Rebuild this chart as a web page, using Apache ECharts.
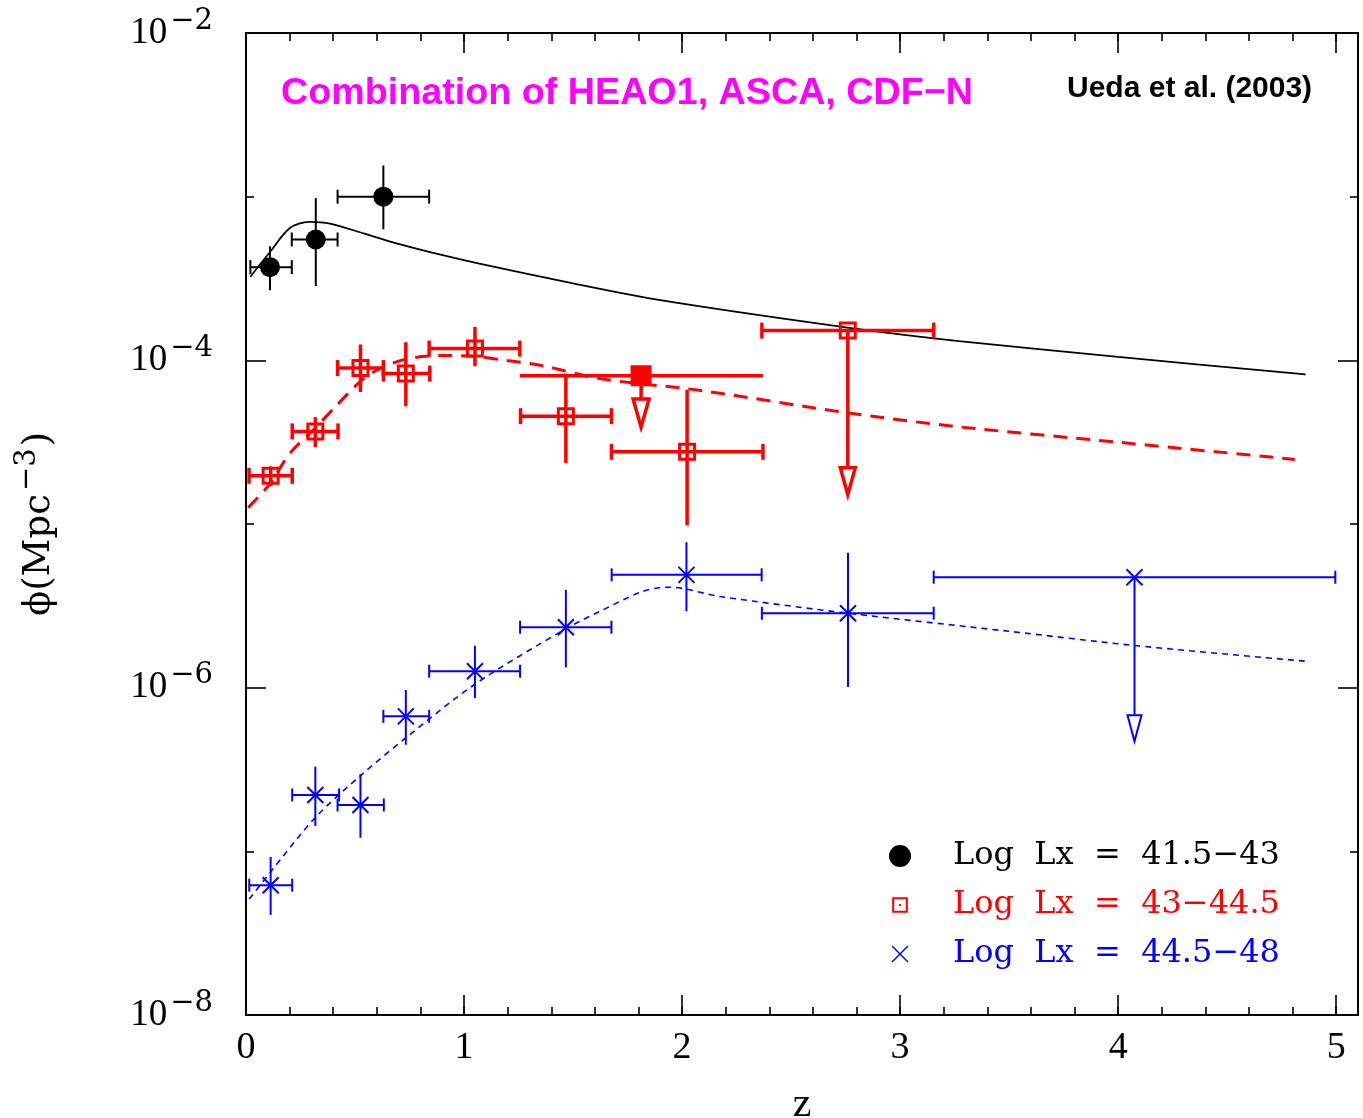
<!DOCTYPE html>
<html><head><meta charset="utf-8">
<script src="https://cdn.jsdelivr.net/npm/echarts@6/dist/echarts.min.js"></script>
<style>html,body{margin:0;padding:0;background:#fff}#c{width:1363px;height:1118px}</style>
</head><body><div id="c"></div>
<script>
// ---- data (z, zLow, zHigh, phi, phiLow, phiHigh) ----
const blackPoints = [
  [0.11, 0.02, 0.21, 3.71e-4, 2.68e-4, 4.98e-4],
  [0.32, 0.21, 0.42, 5.47e-4, 2.84e-4, 9.80e-4],
  [0.63, 0.42, 0.84, 1.00e-3, 6.32e-4, 1.55e-3]
];
const redPoints = [
  [0.113, 0.014, 0.212, 1.97e-5, 1.70e-5, 2.25e-5],
  [0.318, 0.212, 0.422, 3.68e-5, 2.95e-5, 4.50e-5],
  [0.525, 0.42, 0.63, 8.97e-5, 6.40e-5, 1.25e-4],
  [0.733, 0.63, 0.843, 8.30e-5, 5.24e-5, 1.29e-4],
  [1.05, 0.84, 1.256, 1.18e-4, 9.20e-5, 1.60e-4],
  [1.467, 1.259, 1.676, 4.56e-5, 2.36e-5, 8.30e-5],
  [2.023, 1.676, 2.371, 2.76e-5, 9.80e-6, 6.62e-5]
];
const bluePoints = [
  [0.113, 0.015, 0.212, 6.21e-8, 4.09e-8, 9.25e-8],
  [0.318, 0.212, 0.427, 2.21e-7, 1.43e-7, 3.29e-7],
  [0.525, 0.42, 0.632, 1.92e-7, 1.21e-7, 2.96e-7],
  [0.733, 0.63, 0.84, 6.68e-7, 4.48e-7, 9.68e-7],
  [1.05, 0.84, 1.257, 1.26e-6, 8.65e-7, 1.80e-6],
  [1.467, 1.257, 1.676, 2.34e-6, 1.33e-6, 3.96e-6],
  [2.02, 1.677, 2.365, 4.89e-6, 2.93e-6, 7.74e-6],
  [2.761, 2.366, 3.154, 2.85e-6, 1.01e-6, 6.67e-6]
];
// upper limits (z, zLow, zHigh, phi, arrowEndPhi)
const redSurveyLimit = [[1.812, 1.256, 2.371, 8.05e-5, 3.91e-5]];
const redLimits = [[2.76, 2.366, 3.154, 1.52e-4, 1.51e-5]];
const blueLimits = [[4.075, 3.154, 4.996, 4.73e-6, 4.70e-7]];
// model curves (z, phi)
const blackCurve = [[0.02,3.24e-4],[0.11,4.59e-4],[0.2,6.41e-4],[0.29,7.02e-4],[0.385,6.85e-4],[0.54,5.96e-4],[0.69,5.18e-4],[0.84,4.60e-4],[1.07,3.90e-4],[1.5,2.95e-4],[1.9,2.33e-4],[2.75,1.59e-4],[3.27,1.31e-4],[4.0,1.05e-4],[4.86,8.2e-5]];
const redCurve = [[0.01,1.26e-5],[0.11,1.76e-5],[0.2,2.69e-5],[0.32,3.89e-5],[0.416,5.31e-5],[0.53,7.55e-5],[0.614,8.89e-5],[0.736,1.02e-4],[0.904,1.07e-4],[1.05,1.06e-4],[1.164,1.01e-4],[1.355,9.3e-5],[1.622,7.73e-5],[2.08,6.56e-5],[2.752,4.79e-5],[3.257,3.94e-5],[4.0,3.16e-5],[4.81,2.48e-5]];
const blueCurve = [[0.015,5.11e-8],[0.11,7.41e-8],[0.318,1.61e-7],[0.525,2.90e-7],[0.736,4.97e-7],[1.05,1.05e-6],[1.467,2.29e-6],[1.622,2.92e-6],[1.821,3.88e-6],[1.943,4.11e-6],[2.172,3.61e-6],[2.761,2.85e-6],[3.5,2.21e-6],[4.075,1.81e-6],[4.862,1.45e-6]];
const seriesNames = ['Log  Lx  =  41.5\u221243', 'Log  Lx  =  43\u221244.5', 'Log  Lx  =  44.5\u221248'];
const xTicks = [0, 1, 2, 3, 4, 5];
const yExponents = [-8, -6, -4, -2];

// ---- helpers ----
const L = Math.log10;
const rowPts = r => [r[0], r[1], r[2], L(r[3]), L(r[4]), L(r[5])];
const rowLim = r => [r[0], r[1], r[2], L(r[3]), L(r[4])];
const curve = c => c.map(p => [p[0], L(p[1])]);

function ln(x1, y1, x2, y2, st) { return {type:'line', shape:{x1, y1, x2, y2}, style: st}; }
function markCircle(c, color) { return {type:'circle', shape:{cx:c[0], cy:c[1], r:10}, style:{fill:color}}; }
function markOpenSq(c, color) { return {type:'rect', shape:{x:c[0]-7.5, y:c[1]-7.5, width:15, height:15}, style:{fill:'none', stroke:color, lineWidth:3}}; }
function markFilledSq(c, color) { return {type:'rect', shape:{x:c[0]-10.5, y:c[1]-10.5, width:21, height:21}, style:{fill:color}}; }
function markX(c, color) {
  const s = {stroke:color, lineWidth:2};
  return {type:'group', children:[ln(c[0]-8,c[1]-8,c[0]+8,c[1]+8,s), ln(c[0]-8,c[1]+8,c[0]+8,c[1]-8,s)]};
}

function errRender(color, lw, cap, marker) {
  return function (params, api) {
    const z = api.value(0), zl = api.value(1), zh = api.value(2);
    const y = api.value(3), yl = api.value(4), yh = api.value(5);
    const c = api.coord([z, y]), a = api.coord([zl, y]), b = api.coord([zh, y]);
    const t = api.coord([z, yh]), d = api.coord([z, yl]);
    const st = {stroke: color, lineWidth: lw};
    return {type:'group', children:[
      ln(a[0], a[1], b[0], b[1], st),
      ln(a[0], a[1]-cap, a[0], a[1]+cap, st),
      ln(b[0], b[1]-cap, b[0], b[1]+cap, st),
      ln(t[0], t[1], d[0], d[1], st),
      marker(c, color)
    ]};
  };
}
function limRender(color, lw, cap, marker, triH, triW) {
  return function (params, api) {
    const z = api.value(0), zl = api.value(1), zh = api.value(2);
    const y = api.value(3), ye = api.value(4);
    const c = api.coord([z, y]), a = api.coord([zl, y]), b = api.coord([zh, y]);
    const e = api.coord([z, ye]);
    const st = {stroke: color, lineWidth: lw};
    const ch = [ln(a[0], a[1], b[0], b[1], st)];
    if (cap > 0) {
      ch.push(ln(a[0], a[1]-cap, a[0], a[1]+cap, st));
      ch.push(ln(b[0], b[1]-cap, b[0], b[1]+cap, st));
    }
    ch.push(ln(c[0], c[1], e[0], e[1]-triH, st));
    ch.push({type:'polygon', shape:{points:[[e[0]-triW/2, e[1]-triH],[e[0]+triW/2, e[1]-triH],[e[0], e[1]]]},
      style:{fill:'#fff', stroke:color, lineWidth:lw, lineJoin:'miter'}});
    ch.push(marker(c, color));
    return {type:'group', children: ch};
  };
}

const serif = 'Liberation Serif';
const yLabelRich = {
  b: {fontFamily: serif, fontSize: 37, color: '#000'},
  s: {fontFamily: 'DejaVu Serif', fontSize: 29, color: '#000', padding: [0, 0, 24, 3]}
};

const tickStyle = {color:'#000', width:1.6};
const axisLineStyle = {color:'#000', width:2};

const sqIcon = 'path://M-2 -2 L-2 -2 M12 12 L12 12 M0 0 L10 0 L10 10 L0 10 Z M1.3 1.3 L1.3 8.7 L8.7 8.7 L8.7 1.3 Z M4.4 4.4 L5.6 4.4 L5.6 5.6 L4.4 5.6 Z';
const xIcon = 'path://M-1.5 -1.5 L-1.5 -1.5 M11.5 11.5 L11.5 11.5 M0 0.6 L0.6 0 L5 4.4 L9.4 0 L10 0.6 L5.6 5 L10 9.4 L9.4 10 L5 5.6 L0.6 10 L0 9.4 L4.4 5 Z';

const chart = echarts.init(document.getElementById('c'), null, {renderer:'canvas'});
chart.setOption({
  animation: false,
  backgroundColor: '#fff',
  title: [
    {text: 'Combination of HEAO1, ASCA, CDF\u2212N', left: 281, top: 75, padding: 0,
     textStyle: {fontFamily:'Liberation Sans', fontWeight:'bold', fontSize:37.7, color:'#ff00ff'}},
    {text: 'Ueda et al. (2003)', left: 1067, top: 74, padding: 0,
     textStyle: {fontFamily:'Liberation Sans', fontWeight:'bold', fontSize:30, color:'#000'}}
  ],
  legend: {
    orient: 'vertical', left: 889, top: 840, itemWidth: 96, itemHeight: 22, itemGap: 17,
    selectedMode: false, padding: 0,
    textStyle: {fontFamily:'DejaVu Serif', fontSize:32, lineHeight:22},
    data: [
      {name: seriesNames[0], icon: 'circle', itemStyle:{color:'#000'}, textStyle:{color:'#000'}},
      {name: seriesNames[1], icon: sqIcon, itemStyle:{color:'#ff0000'}, textStyle:{color:'#ff0000'}},
      {name: seriesNames[2], icon: xIcon, itemStyle:{color:'#0000ff'}, textStyle:{color:'#0000ff'}}
    ]
  },
  grid: {left: 246, top: 33, right: 5, bottom: 103, containLabel: false, outerBoundsMode: 'none'},
  xAxis: [
    {type:'value', min:0, max:5.1, interval:1, position:'bottom',
     axisLine:{show:true, onZero:false, lineStyle:axisLineStyle},
     axisTick:{show:true, inside:true, length:20, lineStyle:tickStyle},
     splitLine:{show:false},
     axisLabel:{show:true, margin:14, fontFamily:serif, fontSize:38, color:'#000',
       formatter: v => (xTicks.indexOf(v) >= 0 ? String(v) : '')},
     name:'z', nameLocation:'middle', nameGap:69,
     nameTextStyle:{fontFamily:serif, fontSize:42, color:'#000'}},
    {type:'value', min:0, max:5.1, interval:1, position:'top',
     axisLine:{show:true, onZero:false, lineStyle:axisLineStyle},
     axisTick:{show:true, inside:true, length:20, lineStyle:tickStyle},
     splitLine:{show:false}, axisLabel:{show:false}},
    {type:'value', min:0, max:5.1, interval:0.2, position:'bottom',
     axisLine:{show:false, onZero:false},
     axisTick:{show:true, inside:true, length:8, lineStyle:tickStyle},
     splitLine:{show:false}, axisLabel:{show:false}},
    {type:'value', min:0, max:5.1, interval:0.2, position:'top',
     axisLine:{show:false, onZero:false},
     axisTick:{show:true, inside:true, length:8, lineStyle:tickStyle},
     splitLine:{show:false}, axisLabel:{show:false}}
  ],
  yAxis: [
    {type:'value', min:-8, max:-2, interval:2, position:'left',
     axisLine:{show:true, onZero:false, lineStyle:axisLineStyle},
     axisTick:{show:true, inside:true, length:20, lineStyle:tickStyle},
     minorTick:{show:true, splitNumber:2, length:8, lineStyle:tickStyle},
     splitLine:{show:false}, minorSplitLine:{show:false},
     axisLabel:{show:true, margin:33, rich: yLabelRich,
       formatter: v => (yExponents.indexOf(v) >= 0 ? '{b|10}{s|\u2212' + (-v) + '}' : '')},
     name:'{n|\u03d5(Mpc}{s|\u22123}{n|)}', nameLocation:'middle', nameGap:180, nameRotate:90,
     nameTextStyle:{rich:{
       n:{fontFamily:'DejaVu Serif', fontSize:37, color:'#000'},
       s:{fontFamily:'DejaVu Serif', fontSize:29, color:'#000', padding:[0,2,24,3]}}}},
    {type:'value', min:-8, max:-2, interval:2, position:'right',
     axisLine:{show:true, onZero:false, lineStyle:axisLineStyle},
     axisTick:{show:true, inside:true, length:20, lineStyle:tickStyle},
     minorTick:{show:true, splitNumber:2, length:8, lineStyle:tickStyle},
     splitLine:{show:false}, minorSplitLine:{show:false}, axisLabel:{show:false}}
  ],
  series: [
    {type:'line', name:'blackModel', data: curve(blackCurve), smooth:0.3, symbol:'none',
     lineStyle:{color:'#000', width:1.8}, z:1},
    {type:'line', name:'redModel', data: curve(redCurve), smooth:0.3, symbol:'none',
     lineStyle:{color:'#ff0000', width:3, type:[14,9]}, z:1},
    {type:'line', name:'blueModel', data: curve(blueCurve), smooth:0.3, symbol:'none',
     lineStyle:{color:'#0000ff', width:1.6, type:[6,5]}, z:1},
    {type:'custom', name: seriesNames[0], data: blackPoints.map(rowPts), encode:{x:0, y:3},
     itemStyle:{color:'#000'}, renderItem: errRender('#000', 2, 7, markCircle), z:3},
    {type:'custom', name: seriesNames[1], data: redPoints.map(rowPts), encode:{x:0, y:3},
     itemStyle:{color:'#ff0000'}, renderItem: errRender('#ff0000', 3.5, 8, markOpenSq), z:3},
    {type:'custom', name: seriesNames[2], data: bluePoints.map(rowPts), encode:{x:0, y:3},
     itemStyle:{color:'#0000ff'}, renderItem: errRender('#0000ff', 2, 6.5, markX), z:3},
    {type:'custom', name:'redSurveyLimit', data: redSurveyLimit.map(rowLim), encode:{x:0, y:3},
     itemStyle:{color:'#ff0000'}, renderItem: limRender('#ff0000', 3.5, 0, markFilledSq, 28, 16), z:3},
    {type:'custom', name:'redLimit', data: redLimits.map(rowLim), encode:{x:0, y:3},
     itemStyle:{color:'#ff0000'}, renderItem: limRender('#ff0000', 3.5, 8, markOpenSq, 27, 15), z:3},
    {type:'custom', name:'blueLimit', data: blueLimits.map(rowLim), encode:{x:0, y:3},
     itemStyle:{color:'#0000ff'}, renderItem: limRender('#0000ff', 2, 6.5, markX, 26, 14), z:3}
  ]
});
</script></body></html>
